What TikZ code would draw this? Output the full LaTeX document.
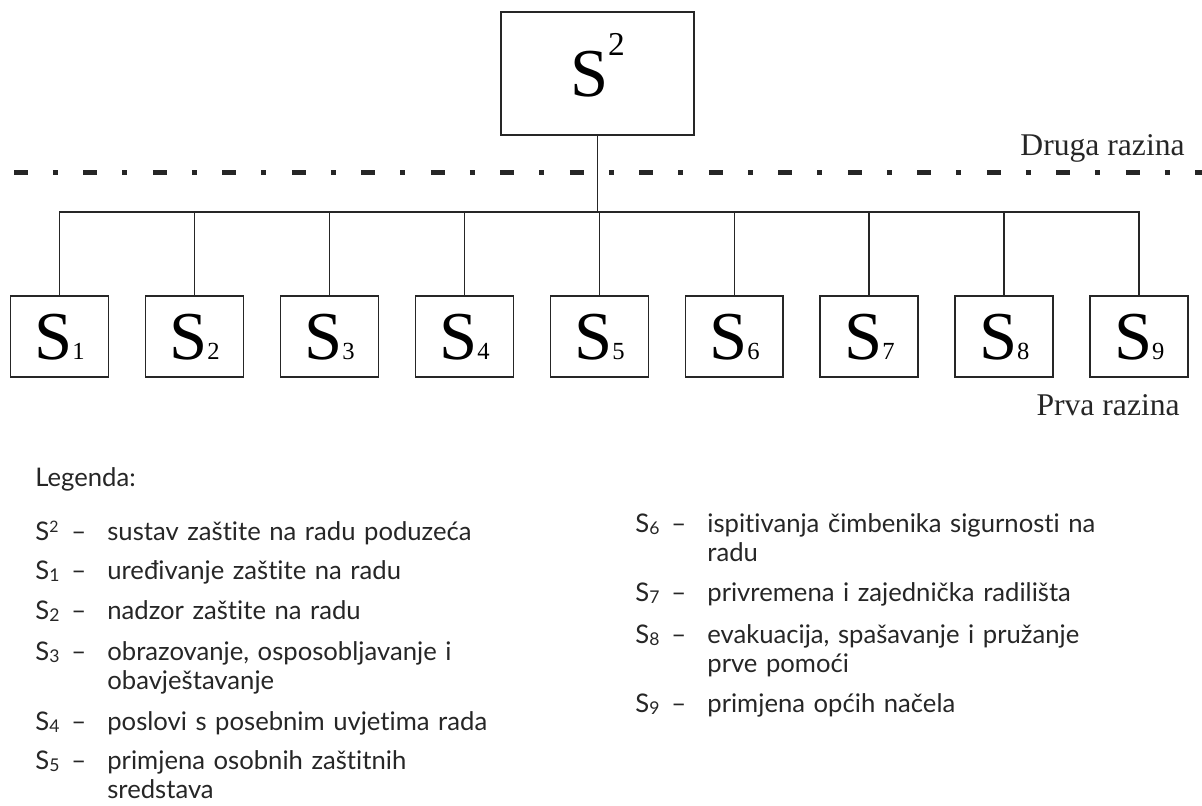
\documentclass[tikz,border=0pt]{standalone}
\usepackage{fontspec}
\setmainfont{Liberation Serif}
\newfontfamily\legendfont[Ligatures=NoCommon]{Lato}
\usetikzlibrary{
    positioning,
    calc
}

% sub- and superscripts of the S labels
\newcommand{\boxsub}[1]{{\fontsize{14}{14}\selectfont #1}}
\newcommand{\boxsup}[1]{\raisebox{23pt}{\fontsize{19}{19}\selectfont #1}}
\newcommand{\legsub}[1]{\raisebox{-1.5pt}{\fontsize{10}{10}\selectfont #1}}
\newcommand{\legsup}[1]{\raisebox{4pt}{\fontsize{9}{9}\selectfont #1}}

\tikzset{
    % --- Top level system box ---
    top box/.style = {
        rectangle, draw=black!85, line width=1pt,
        minimum width=3.86cm, minimum height=2.46cm,
        inner sep=0pt, outer sep=0pt,
        text height=26pt, text depth=0pt,
        font=\fontsize{39}{39}\selectfont
    },
    % --- First level subsystem box ---
    level box/.style = {
        top box,
        minimum width=1.96cm, minimum height=1.62cm
    },
    % --- Connector lines of the tree ---
    tree line/.style = {
        draw=black!85, line width=1pt
    },
    % --- Dash-dot separator between the levels ---
    level sep/.style = {
        draw=black!85, line width=0.1cm,
        dash pattern=on 0.28cm off 0.5cm on 0.1cm off 0.51cm
    },
    % --- Level name ---
    level label/.style = {
        anchor=base east, inner sep=0pt,
        font=\fontsize{18}{18}\selectfont, text=black!85
    },
    % --- Legend symbols and text ---
    leg sym/.style = {
        anchor=base west, inner sep=0pt,
        font=\legendfont\fontsize{14.6}{16.5}\selectfont, text=black!85
    },
    leg text/.style = {
        leg sym, align=left, text width=9cm
    }
}

\begin{document}
\begin{tikzpicture}[x=0.02cm, y=-0.02cm]

\useasboundingbox (0,0) rectangle (1202,805);

% ---------------------------------------------------------
% Second level: the whole system
% ---------------------------------------------------------
\node[top box] (S0) at (597.5,73.5) {S\boxsup{2}};

% ---------------------------------------------------------
% First level: subsystems
% ---------------------------------------------------------
\node[level box] (S1) at (59.5,336.5) {S\boxsub{1}};
\node[level box, right=0.74cm of S1] (S2) {S\boxsub{2}};
\node[level box, right=0.74cm of S2] (S3) {S\boxsub{3}};
\node[level box, right=0.74cm of S3] (S4) {S\boxsub{4}};
\node[level box, right=0.74cm of S4] (S5) {S\boxsub{5}};
\node[level box, right=0.74cm of S5] (S6) {S\boxsub{6}};
\node[level box, right=0.74cm of S6] (S7) {S\boxsub{7}};
\node[level box, right=0.74cm of S7] (S8) {S\boxsub{8}};
\node[level box, right=0.74cm of S8] (S9) {S\boxsub{9}};

% ---------------------------------------------------------
% Tree connections
% ---------------------------------------------------------
\coordinate (bus) at (600,212);
\draw[tree line] (S0.south) -- (S0.south |- bus);
\draw[tree line] (S1.north) -- (S1.north |- bus) -- (S9.north |- bus) -- (S9.north);
\foreach \n in {2,...,8}
    \draw[tree line] (S\n.north) -- (S\n.north |- bus);

% ---------------------------------------------------------
% Level separator and level names
% ---------------------------------------------------------
\coordinate (sepL) at (14,172);
\coordinate (sepR) at (1202,172);
\draw[level sep] (sepL) -- (sepR);

\node[level label] (druga) at (1185,155) {Druga razina};
\node[level label] (prva) at (1180,415) {Prva razina};

% ---------------------------------------------------------
% Legend
% ---------------------------------------------------------
\node[leg sym] (legend) at (35,486) {Legenda:};

\foreach \x/\y/\sym/\txt [count=\i] in {
    35/540/{S\legsup{2}}/{sustav zaštite na radu poduzeća},
    35/579/{S\legsub{1}}/{uređivanje zaštite na radu},
    35/619/{S\legsub{2}}/{nadzor zaštite na radu},
    35/660/{S\legsub{3}}/{obrazovanje, osposobljavanje i\\obavještavanje},
    35/730/{S\legsub{4}}/{poslovi s posebnim uvjetima rada},
    35/769/{S\legsub{5}}/{primjena osobnih zaštitnih\\sredstava},
    635/532/{S\legsub{6}}/{ispitivanja čimbenika sigurnosti na\\radu},
    635/601/{S\legsub{7}}/{privremena i zajednička radilišta},
    635/643/{S\legsub{8}}/{evakuacija, spašavanje i pružanje\\prve pomoći},
    635/712/{S\legsub{9}}/{primjena općih načela}} {
    \node[leg sym] (sym\i) at (\x,\y) {\sym};
    \node[leg sym] (dash\i) at ($(sym\i.base west)+(36,0)$) {–};
    \node[leg text] (item\i) at ($(sym\i.base west)+(72,0)$) {\txt};
}

\end{tikzpicture}
\end{document}
